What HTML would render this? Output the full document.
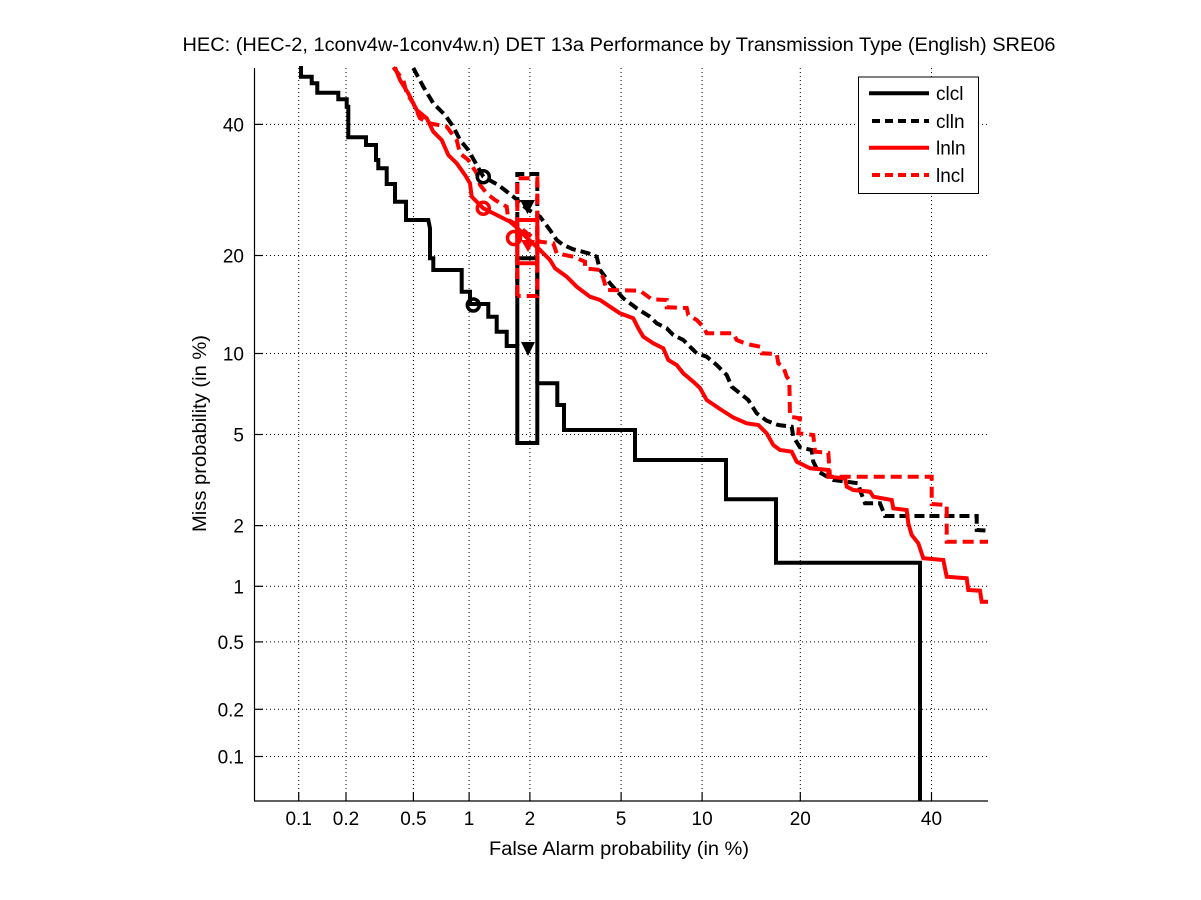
<!DOCTYPE html>
<html>
<head>
<meta charset="utf-8">
<style>
html,body{margin:0;padding:0;background:#fff;}
svg{display:block;}
text{font-family:"Liberation Sans",Helvetica,Arial,sans-serif;fill:#000;}
</style>
</head>
<body>
<svg width="1201" height="900" viewBox="0 0 1201 900" xmlns="http://www.w3.org/2000/svg">
<rect width="1201" height="900" fill="#fff"/>

<!-- grid -->
<g stroke="#000" stroke-width="1" stroke-dasharray="1,3" fill="none">
  <line x1="298.7" y1="68" x2="298.7" y2="801"/>
  <line x1="346" y1="68" x2="346" y2="801"/>
  <line x1="413.4" y1="68" x2="413.4" y2="801"/>
  <line x1="469.1" y1="68" x2="469.1" y2="801"/>
  <line x1="529.9" y1="68" x2="529.9" y2="801"/>
  <line x1="621.1" y1="68" x2="621.1" y2="801"/>
  <line x1="702.1" y1="68" x2="702.1" y2="801"/>
  <line x1="800.3" y1="68" x2="800.3" y2="801"/>
  <line x1="931.5" y1="68" x2="931.5" y2="801"/>
  <line x1="254" y1="124.4" x2="988" y2="124.4"/>
  <line x1="254" y1="255.5" x2="988" y2="255.5"/>
  <line x1="254" y1="353.5" x2="988" y2="353.5"/>
  <line x1="254" y1="434.5" x2="988" y2="434.5"/>
  <line x1="254" y1="525.6" x2="988" y2="525.6"/>
  <line x1="254" y1="586.3" x2="988" y2="586.3"/>
  <line x1="254" y1="641.9" x2="988" y2="641.9"/>
  <line x1="254" y1="709.3" x2="988" y2="709.3"/>
  <line x1="254" y1="756.5" x2="988" y2="756.5"/>
</g>

<!-- axes -->
<g stroke="#000" stroke-width="1.2" fill="none">
  <line x1="254.5" y1="68" x2="254.5" y2="801"/>
  <line x1="254" y1="801" x2="988" y2="801"/>
  <line x1="298.7" y1="801" x2="298.7" y2="792"/>
  <line x1="346" y1="801" x2="346" y2="792"/>
  <line x1="413.4" y1="801" x2="413.4" y2="792"/>
  <line x1="469.1" y1="801" x2="469.1" y2="792"/>
  <line x1="529.9" y1="801" x2="529.9" y2="792"/>
  <line x1="621.1" y1="801" x2="621.1" y2="792"/>
  <line x1="702.1" y1="801" x2="702.1" y2="792"/>
  <line x1="800.3" y1="801" x2="800.3" y2="792"/>
  <line x1="931.5" y1="801" x2="931.5" y2="792"/>
  <line x1="254" y1="124.4" x2="263" y2="124.4"/>
  <line x1="254" y1="255.5" x2="263" y2="255.5"/>
  <line x1="254" y1="353.5" x2="263" y2="353.5"/>
  <line x1="254" y1="434.5" x2="263" y2="434.5"/>
  <line x1="254" y1="525.6" x2="263" y2="525.6"/>
  <line x1="254" y1="586.3" x2="263" y2="586.3"/>
  <line x1="254" y1="641.9" x2="263" y2="641.9"/>
  <line x1="254" y1="709.3" x2="263" y2="709.3"/>
  <line x1="254" y1="756.5" x2="263" y2="756.5"/>
</g>

<!-- tick labels -->
<g font-size="19" text-anchor="middle">
  <text x="298.7" y="825">0.1</text>
  <text x="346" y="825">0.2</text>
  <text x="413.4" y="825">0.5</text>
  <text x="469.1" y="825">1</text>
  <text x="529.9" y="825">2</text>
  <text x="621.1" y="825">5</text>
  <text x="702.1" y="825">10</text>
  <text x="800.3" y="825">20</text>
  <text x="931.5" y="825">40</text>
</g>
<g font-size="19" text-anchor="end">
  <text x="244" y="131.4">40</text>
  <text x="244" y="262.5">20</text>
  <text x="244" y="360.5">10</text>
  <text x="244" y="441.5">5</text>
  <text x="244" y="532.6">2</text>
  <text x="244" y="593.3">1</text>
  <text x="244" y="648.9">0.5</text>
  <text x="244" y="716.3">0.2</text>
  <text x="244" y="763.5">0.1</text>
</g>

<!-- title and labels -->
<text x="619" y="51" font-size="19" text-anchor="middle" textLength="873" lengthAdjust="spacingAndGlyphs">HEC: (HEC-2, 1conv4w-1conv4w.n) DET 13a Performance by Transmission Type (English) SRE06</text>
<text x="619" y="855" font-size="19" text-anchor="middle" textLength="260" lengthAdjust="spacingAndGlyphs">False Alarm probability (in %)</text>
<text transform="translate(206,433.5) rotate(-90)" x="0" y="0" font-size="19" text-anchor="middle" textLength="197" lengthAdjust="spacingAndGlyphs">Miss probability (in %)</text>

<!-- clcl: black solid -->
<g fill="none" stroke="#000" stroke-width="4" stroke-linejoin="miter">
  <path d="M301,66 V76.7 H311.7 V83.3 H317.3 V92.7 H338.3 V99.3 H346.7 V106.7 H348.3 V137.3 H366 V145 H376 V160 H378.3 V168.3 H386.7 V184 H395 V201.7 H406 V220 H428.3 L430,228.3 V258.3 H433.3 V270 H461.7 V291.7 H470 V304 H488.3 V316.7 H496.7 V331.7 H506.7 V346 H517.3 V443 H537.3 V383.3 H557.3 V405 H564 V430 H635 V460 H726 V499.3 H776 V562.7 H920 V801"/>
  <path d="M517.3,346 V258.3 H537.3 V383.3"/>
</g>

<!-- clln: black dashed -->
<g fill="none" stroke="#000" stroke-width="4" stroke-dasharray="10,5">
  <path d="M413.3,68 L423.3,86.7 L433.3,103.3 L445,115 L453.3,126.7 L460,140 L468.3,150 L476.7,165 L483.3,176.7 L498.3,185 L513.3,196.7 L517.3,200 L527,209 L540,216.7 L550,230 L556.7,240 L563.3,245 L573.3,249.3 L588.3,253.3 L596.7,256.7 L600,270 L610,283.3 L623.3,298.3 L636.7,308.3 L650,316.7 L656.7,323.3 L666.7,328.3 L673.3,335 L683.3,340 L690,346.7 L696.7,353.3 L706.7,356.7 L716.7,365 L726.7,375 L731.7,386.7 L740,393.3 L748.3,400 L756.7,413.3 L766.7,420.7 L778.3,425 L791.7,426.7 L793.3,436.7 L800,447.3 L811.7,450 L813.3,461.7 L818.3,471.7 L833.3,480 L858.3,483.3 L860,490 L865,503.3 L880,503.3 L885,516 L976.7,516 L976.7,530 L988,530.7"/>
  <path d="M517.3,297 V174 H537.3 V297"/>
</g>

<!-- lnln: red solid -->
<g fill="none" stroke="#f00" stroke-width="4" stroke-linejoin="miter">
  <path d="M395,67.3 L400,80 L408.3,93.3 L416.7,110 L426.7,118.3 L433.3,131.7 L441.7,140 L448.3,155 L456.7,163.3 L465,175 L470,183.3 L471.7,196.7 L483.3,208.3 L496.7,215 L510,221.7 L517.3,228 L527,238 L540,250 L550,260 L555,268.3 L566.7,276.7 L576.7,286.7 L590,296.7 L600,300 L610,306.7 L620,313.3 L633.3,318.3 L638.3,328.3 L643.3,336.7 L653.3,343.3 L663.3,348.3 L668.3,360 L676.7,365 L683.3,373.3 L693.3,381.7 L700,388 L706.7,400 L720,409 L733.3,417.5 L746.7,423.3 L758.3,425 L766.7,433.3 L773.3,445 L780,450 L791.7,451.7 L796.7,461.7 L810,468.3 L828.3,470 L828.3,476.7 L845,478.3 L846.7,486.7 L853.3,490 L870,491.7 L873.3,496.7 L891.7,500 L893.3,508.3 L906.7,510 L908.3,523.3 L911.7,535 L918.3,543.3 L923.3,558.3 L943.3,560 L946.7,576.7 L966.7,578.3 L968.3,590 L980,590.7 L981.7,601.7 L988,601.7"/>
  <path d="M517.3,220 H537.3 V263.3 H517.3 Z"/>
</g>

<!-- lncl: red dashed -->
<g fill="none" stroke="#f00" stroke-width="4" stroke-dasharray="11,6">
  <path d="M393.3,67.3 L403.3,80 L406.7,93.3 L413.3,103.3 L420,118.3 L430,123.3 L446.7,126.7 L456.7,140 L460,153.3 L468.3,160 L476.7,173.3 L480,185 L486.7,193.3 L495,200 L506.7,206.7 L508.3,220 L517.3,225 L528,234 L540,241.7 L553.3,243.3 L556.7,253.3 L573.3,256.7 L585,261.7 L585,268.3 L600,270 L603.3,278.3 L606.7,290 L640,290.7 L651.7,299.3 L666.7,300 L666.7,307.3 L686.7,308 L688.3,315 L696.7,320 L703.3,326.7 L706.7,333.3 L733.3,333.3 L736.7,340 L746.7,344 L760,346.7 L761.7,353.3 L776.7,354 L778.3,363.3 L783.3,366.7 L786.7,376.7 L789.3,380 L790,416.7 L800,418.3 L798.3,433.3 L813.3,435 L815,451.7 L828.3,452.7 L830,476.7 L931.7,476.7 L931.7,504 L946.7,505 L946.7,541.7 L988,541.7"/>
  <path d="M517.3,296 V178.3 H537.3 V296 H517.3"/>
</g>

<!-- markers -->
<g fill="none" stroke-width="3.5">
  <circle cx="473.3" cy="305" r="6" stroke="#000"/>
  <circle cx="483.3" cy="176.7" r="6" stroke="#000"/>
  <circle cx="483.3" cy="208.3" r="6" stroke="#f00"/>
  <circle cx="514" cy="238" r="6.5" stroke="#f00"/>
</g>
<polygon points="520,200 535,200 527.5,214" fill="#000"/>
<polygon points="521,342 535,342 528,356" fill="#000"/>
<polygon points="521,240 535,240 528,252" fill="#f00"/>

<!-- legend -->
<rect x="858.5" y="77" width="120" height="116.5" fill="#fff" stroke="#000" stroke-width="1"/>
<line x1="869" y1="93.3" x2="929" y2="93.3" stroke="#000" stroke-width="4"/>
<line x1="872" y1="121" x2="929" y2="121" stroke="#000" stroke-width="4" stroke-dasharray="8,5"/>
<line x1="869" y1="147.7" x2="929" y2="147.7" stroke="#f00" stroke-width="4"/>
<line x1="872" y1="175" x2="929" y2="175" stroke="#f00" stroke-width="4" stroke-dasharray="8,5"/>
<g font-size="19">
  <text x="936" y="100">clcl</text>
  <text x="936" y="128">clln</text>
  <text x="936" y="154.5">lnln</text>
  <text x="936" y="182">lncl</text>
</g>
</svg>
</body>
</html>
